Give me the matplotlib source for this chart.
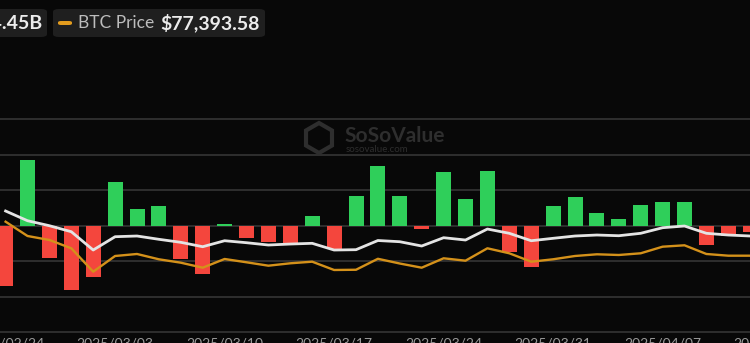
import numpy as np
import matplotlib
matplotlib.use("Agg")
import matplotlib.pyplot as plt
from matplotlib.patches import FancyBboxPatch, RegularPolygon
from matplotlib.transforms import IdentityTransform

# daily net inflow (US$ M), BTC price (US$) and total net assets (US$ B)
net_inflow = [-338, 372, -183, -365, -291, 246, 96, 109, -186, -274,
              9, -70, -92, -107, 56, -134, 169, 336, 167, -21,
              302, 148, 306, -149, -231, 109, 163, 73, 35, 118,
              133, 131, -109, -59, -36]
btc_price = [82188, 80172, 79608, 78437, 75138, 77352, 77634, 76886, 76407, 75702,
             76929, 76463, 75984, 76322, 76548, 75378, 75410, 76957, 76290, 75702,
             77027, 76689, 78437, 77732, 76548, 76886, 77352, 77591, 77493, 77732,
             78663, 78860, 77634, 77394, 77393.58]
net_assets = [101.50, 98.76, 97.35, 95.66, 90.50, 94.25, 94.45, 93.52, 92.67, 91.43,
              93.12, 92.56, 91.91, 92.19, 92.39, 90.50, 90.59, 93.18, 92.84, 91.63,
              93.97, 93.32, 96.42, 95.21, 93.12, 93.80, 94.45, 94.73, 94.53, 95.21,
              96.79, 97.27, 95.21, 94.73, 94.45]
tick_pos = [0, 5, 10, 15, 20, 25, 30, 35]
tick_labels = ["2025/02/24", "2025/03/03", "2025/03/10", "2025/03/17",
               "2025/03/24", "2025/03/31", "2025/04/07", "2025/04/14"]

W, H = 750, 343
BG = "#080808"
GREEN = "#2fcf5a"
RED = "#f4463d"
ORANGE = "#d4911a"
WHITE = "#e4e4e4"
GRID = "#313131"


def fx(px):
    return px / W


def fy(py):
    return 1 - py / H


fig = plt.figure(figsize=(W / 100, H / 100), dpi=100, facecolor=BG)

# plot area in pixels: bar centres at 5.6 + 21.9*i, grid from y=119.3 to 332
step, x0 = 21.9, 5.6
left_px, right_px = -40, 800
top_px, bot_px = 117.5, 333.8
ax = fig.add_axes([fx(left_px), fy(bot_px), (right_px - left_px) / W, (bot_px - top_px) / H])
ax.set_facecolor(BG)
ax.set_xlim((left_px - x0) / step, (right_px - x0) / step)
ax.set_ylim(-610, 610)

x = np.arange(len(net_inflow))
colors = [GREEN if v >= 0 else RED for v in net_inflow]
ax.bar(x, net_inflow, width=15 / step, color=colors, zorder=2)

ax.set_yticks(np.arange(-600, 601, 200))
ax.yaxis.grid(True, color=GRID, lw=1.3, zorder=0)
ax.tick_params(axis="y", left=False, labelleft=False)
ax.set_xticks(tick_pos)
ax.set_xticklabels(tick_labels, family="Lato", fontsize=10, color="#9a9a9a")
ax.tick_params(axis="x", length=0, pad=2.5)
for s in ax.spines.values():
    s.set_visible(False)

# BTC price line
ax2 = ax.twinx()
ax2.plot(x, btc_price, color=ORANGE, lw=1.7, zorder=3)
ax2.set_ylim(66380, 96880)
ax2.axis("off")

# total net assets line
ax3 = ax.twinx()
ax3.plot(x, net_assets, color=WHITE, lw=2, zorder=4)
ax3.set_ylim(66.88, 127.86)
ax3.axis("off")

# header boxes
for bx0, bx1 in [(-30, 47), (53, 265)]:
    fig.patches.append(FancyBboxPatch((fx(bx0), fy(37)), fx(bx1 - bx0), (37 - 9) / H,
                                      boxstyle="round,pad=0,rounding_size=0.008",
                                      transform=fig.transFigure, facecolor="#1f1f1f",
                                      edgecolor="none"))
fig.text(fx(43), fy(23), "$94.45B", ha="right", va="center", family="Lato",
         fontweight="bold", fontsize=14, color="#ececec")
fig.patches.append(FancyBboxPatch((fx(58), fy(25)), fx(14), 4 / H,
                                  boxstyle="round,pad=0,rounding_size=0.004",
                                  transform=fig.transFigure, facecolor="#e39c1e",
                                  edgecolor="none"))
fig.text(fx(78), fy(23), "BTC Price", ha="left", va="center", family="Lato",
         fontsize=12.5, color="#bdbdbd")
fig.text(fx(160), fy(23), "$77,393.58", ha="left", va="center", family="Lato",
         fontweight="bold", fontsize=14, color="#ececec")

# watermark
fig.patches.append(RegularPolygon((319, H - 138), 6, radius=15, transform=IdentityTransform(),
                                  facecolor="none", edgecolor="#2e2e2e", lw=3))
fig.text(fx(344), fy(136), "SoSoValue", ha="left", va="center", family="Lato",
         fontweight="bold", fontsize=15, color="#2e2e2e")
fig.text(fx(346), fy(150), "sosovalue.com", ha="left", va="center", family="Lato",
         fontsize=7, color="#2e2e2e")

fig.savefig("out.png", dpi=100, facecolor=BG)
